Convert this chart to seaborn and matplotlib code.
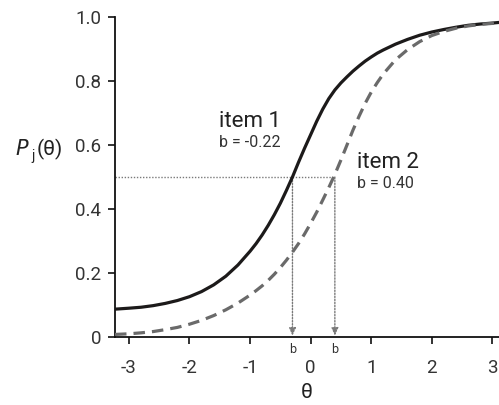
import numpy as np
import pandas as pd
import matplotlib
matplotlib.use("Agg")
import matplotlib.pyplot as plt
import seaborn as sns

# values
theta = [-3.23, -3.0, -2.8, -2.6, -2.4, -2.2, -2.0, -1.8, -1.6, -1.4, -1.2,
         -1.0, -0.9, -0.8, -0.7, -0.6, -0.5, -0.4, -0.3, -0.2, -0.1, 0.0,
         0.1, 0.2, 0.3, 0.4, 0.5, 0.6, 0.7, 0.8, 0.9, 1.0, 1.1, 1.2,
         1.4, 1.6, 1.8, 2.0, 2.2, 2.4, 2.6, 2.8, 3.0, 3.11]
item1 = [0.087, 0.090, 0.093, 0.098, 0.105, 0.114, 0.126, 0.142, 0.163, 0.190,
         0.225, 0.268, 0.292, 0.319, 0.349, 0.382, 0.418, 0.458, 0.500, 0.546,
         0.590, 0.632, 0.674, 0.712, 0.745, 0.772, 0.794, 0.813, 0.831, 0.847,
         0.862, 0.875, 0.887, 0.897, 0.915, 0.930, 0.943, 0.953, 0.961, 0.968,
         0.974, 0.978, 0.981, 0.983]
item2 = [0.008, 0.010, 0.013, 0.017, 0.023, 0.030, 0.040, 0.052, 0.067, 0.085,
         0.106, 0.131, 0.145, 0.160, 0.177, 0.196, 0.217, 0.240, 0.265, 0.292,
         0.322, 0.355, 0.390, 0.428, 0.467, 0.508, 0.553, 0.600, 0.647, 0.690,
         0.730, 0.765, 0.795, 0.822, 0.866, 0.898, 0.923, 0.942, 0.955, 0.965,
         0.972, 0.977, 0.980, 0.982]
cross_theta = [-0.30, 0.40]      # where each curve reaches 0.5
item_labels = ["item 1", "item 2"]
b_labels = ["b = -0.22", "b = 0.40"]
xticks = [-3, -2, -1, 0, 1, 2, 3]
yticks = [0, 0.2, 0.4, 0.6, 0.8, 1.0]
ytick_labels = ["0", "0.2", "0.4", "0.6", "0.8", "1.0"]

sns.set_style("ticks")
plt.rcParams['font.family'] = ['Roboto', 'DejaVu Sans']
plt.rcParams['axes.unicode_minus'] = False

fig = plt.figure(figsize=(4.99, 4.05), dpi=100)
ax = fig.add_axes([115 / 499, 68 / 405, 384 / 499, 320 / 405])

df = pd.DataFrame({"theta": theta * 2,
                   "P": item1 + item2,
                   "item": ["item 1"] * len(theta) + ["item 2"] * len(theta)})

sns.lineplot(data=df[df["item"] == "item 1"], x="theta", y="P", ax=ax,
             color="#1c1a1a", lw=2.3, legend=False, zorder=3,
             solid_joinstyle="round")
sns.lineplot(data=df[df["item"] == "item 2"], x="theta", y="P", ax=ax,
             color="#6a6a6a", lw=2.3, legend=False, zorder=3,
             linestyle=(0, (3.6, 2.2)))

ax.set_xlim(-3.23, 3.11)
ax.set_ylim(0, 1.0)

# guide lines
dot_col = "#7a7a7a"
ax.plot([-3.23, cross_theta[1]], [0.5, 0.5], color=dot_col, lw=1.0,
        linestyle=(0, (1, 1.2)), zorder=2)
for ct in cross_theta:
    ax.annotate("", xy=(ct, 0.0), xytext=(ct, 0.5),
                arrowprops=dict(arrowstyle="-|>,head_length=0.45,head_width=0.2",
                                color=dot_col, lw=1.0, linestyle=(0, (1, 1.2)),
                                shrinkA=0, shrinkB=1),
                zorder=2)
    ax.text(ct, -0.018, "b", ha="center", va="top", fontsize=9,
            color="#333333")

# item labels
ax.text(-1.52, 0.656, item_labels[0], fontsize=16, color="#222222",
        ha="left", va="baseline")
ax.text(-1.52, 0.594, b_labels[0], fontsize=11.5, color="#333333",
        ha="left", va="baseline")
ax.text(0.76, 0.528, item_labels[1], fontsize=16, color="#222222",
        ha="left", va="baseline")
ax.text(0.76, 0.466, b_labels[1], fontsize=11.5, color="#333333",
        ha="left", va="baseline")

ax.set_xticks(xticks)
ax.set_yticks(yticks)
ax.set_yticklabels(ytick_labels)
ax.tick_params(axis="both", direction="out", length=5, width=1.2,
               labelsize=13.5, labelcolor="#333333", color="#111111")
ax.tick_params(axis="x", pad=11)
ax.tick_params(axis="y", pad=5)
for s in ["top", "right"]:
    ax.spines[s].set_visible(False)
for s in ["left", "bottom"]:
    ax.spines[s].set_linewidth(1.3)
    ax.spines[s].set_color("#111111")

ax.set_xlabel("θ", fontsize=15, color="#222222", labelpad=4)
ax.set_ylabel("")
fig.text(15 / 499, 1 - 155 / 405, r"$P$", fontsize=15, color="#222222",
         ha="left", va="baseline", math_fontfamily="dejavusans")
fig.text(31 / 499, 1 - 160 / 405, "j", fontsize=10, color="#222222",
         ha="left", va="baseline")
fig.text(37 / 499, 1 - 155 / 405, "(θ)", fontsize=15, color="#222222",
         ha="left", va="baseline")

fig.savefig("out.png", dpi=100)
